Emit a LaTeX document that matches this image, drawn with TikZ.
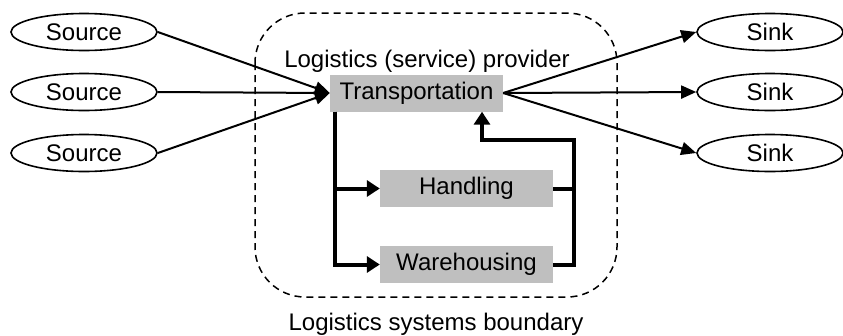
\documentclass[tikz,border=0pt]{standalone}
\usepackage{fontspec}
\setmainfont{Liberation Sans}
\usetikzlibrary{shapes.geometric,arrows.meta}
\tikzset{
  endpoint/.style={draw,ellipse,line width=1.6pt,inner sep=0pt,minimum width=146pt,minimum height=37pt},
  task/.style={fill=black!25,inner sep=0pt,minimum width=173pt,minimum height=37pt},
  link/.style={line width=2pt,-{Triangle[length=15pt,width=13pt]}},
  flow/.style={line width=4pt,-{Triangle[length=13pt,width=16pt]}},
}
\begin{document}
\begin{tikzpicture}[x=1pt,y=-1pt,font=\fontsize{24}{28}\selectfont]
    \useasboundingbox (0,0) rectangle (843,335);
    % system boundary
    \draw[line width=1.5pt,dash pattern=on 7pt off 5pt,rounded corners=50pt] (255,13) rectangle (617,297);
    \node[anchor=base] (prov) at (427,67) {Logistics (service) provider};
    \node[anchor=base] (bound) at (436,330) {Logistics systems boundary};
    % activities
    \node[task] (trans) at (416.5,93) {Transportation};
    \node[task] (hand) at (466.5,188.5) {Handling};
    \node[task] (ware) at (466.5,264.5) {Warehousing};
    \coordinate (rc) at (574,140);
    % sources and sinks
    \foreach \y [count=\i] in {32,92,153}{
        \node[endpoint] (src\i) at (84,\y) {Source};
        \node[endpoint] (snk\i) at (770,\y) {Sink};
        \draw[link] (src\i.east) -- (trans.west);
        \draw[link] (trans.east) -- (snk\i.west);
    }
    \draw[flow] ([xshift=5pt]trans.south west) |- (hand.west);
    \draw[flow] ([xshift=5pt]trans.south west) |- (ware.west);
    \draw[line width=4pt] (hand.east) -- (hand.east -| rc);
    \draw[flow] (ware.east) -| (rc) -| ([xshift=65.5pt]trans.south);
\end{tikzpicture}
\end{document}
